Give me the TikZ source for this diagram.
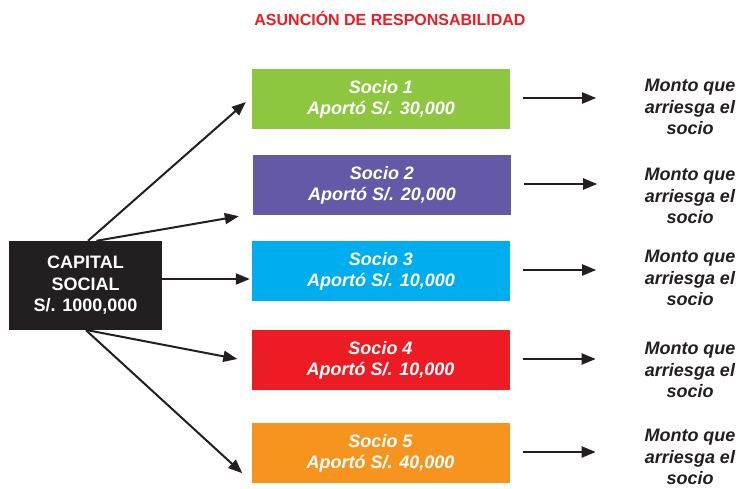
\documentclass[tikz,border=0pt]{standalone}
\usepackage{fontspec}
\setmainfont{Liberation Sans}
\usetikzlibrary{arrows.meta,calc}
\definecolor{cgreen}{HTML}{8DC63F}
\definecolor{cpurple}{HTML}{6459A6}
\definecolor{ccyan}{HTML}{00AEEF}
\definecolor{cred}{HTML}{ED1C24}
\definecolor{corange}{HTML}{F7941D}
\definecolor{cblack}{HTML}{231F20}
\tikzset{
  socio/.style={fill=#1, draw=none, minimum width=258pt, minimum height=60pt, inner sep=0pt,
    text=white, align=center, font=\fontsize{18}{21}\selectfont\bfseries\itshape},
  capbox/.style={fill=cblack, draw=none, minimum width=153pt, minimum height=89pt, inner sep=0pt,
    text=white, align=center, font=\fontsize{18}{21.5}\selectfont\bfseries},
  monto/.style={align=center, text=cblack, inner sep=0pt, font=\fontsize{18}{21.5}\selectfont\bfseries\itshape},
  arr/.style={draw=cblack, line width=2pt, -{Triangle[length=14pt,width=11pt]}},
}
\begin{document}
\begin{tikzpicture}[x=1pt,y=-1pt]
\useasboundingbox (0,0) rectangle (742,488);
\node[text=cred, font=\fontsize{16}{18}\selectfont\bfseries] (title) at (390,18) {ASUNCIÓN DE RESPONSABILIDAD};
\node[capbox] (cap) at (85.5,285.5) {CAPITAL\\SOCIAL\\S/. 1000,000};
\node[socio=cgreen] (s1) at (381,99) {Socio 1\\Aportó S/. 30,000};
\node[socio=cpurple] (s2) at (382,185) {Socio 2\\Aportó S/. 20,000};
\node[socio=ccyan] (s3) at (381,271) {Socio 3\\Aportó S/. 10,000};
\node[socio=cred] (s4) at (380.5,360) {Socio 4\\Aportó S/. 10,000};
\node[socio=corange] (s5) at (380.5,453) {Socio 5\\Aportó S/. 40,000};
\node[monto] (m1) at (690,107) {Monto que\\arriesga el\\socio};
\node[monto] (m2) at (690,196) {Monto que\\arriesga el\\socio};
\node[monto] (m3) at (690,278) {Monto que\\arriesga el\\socio};
\node[monto] (m4) at (690,370) {Monto que\\arriesga el\\socio};
\node[monto] (m5) at (690,457) {Monto que\\arriesga el\\socio};
% arrows from capital
\draw[arr] ($(cap.north)+(2.5,0)$) -- ($(s1.west)+(-6,3)$);
\draw[arr] ($(cap.north)+(11,0)$) -- ($(s2.south west)+(-14,1)$);
\draw[arr] ($(cap.east)+(0,-6.5)$) -- ($(s3.west)+(-2,8)$);
\draw[arr] ($(cap.south)+(2,0)$) -- ($(s4.west)+(-14,-1)$);
\draw[arr] ($(cap.south)+(0.5,0)$) -- ($(s5.south west)+(-9,-10)$);
% arrows to the right
\foreach \i in {1,...,5}{
  \draw[arr] ($(s\i.east)+(13,-1)$) -- ($(s\i.east)+(86,-1)$);
}
\end{tikzpicture}
\end{document}
